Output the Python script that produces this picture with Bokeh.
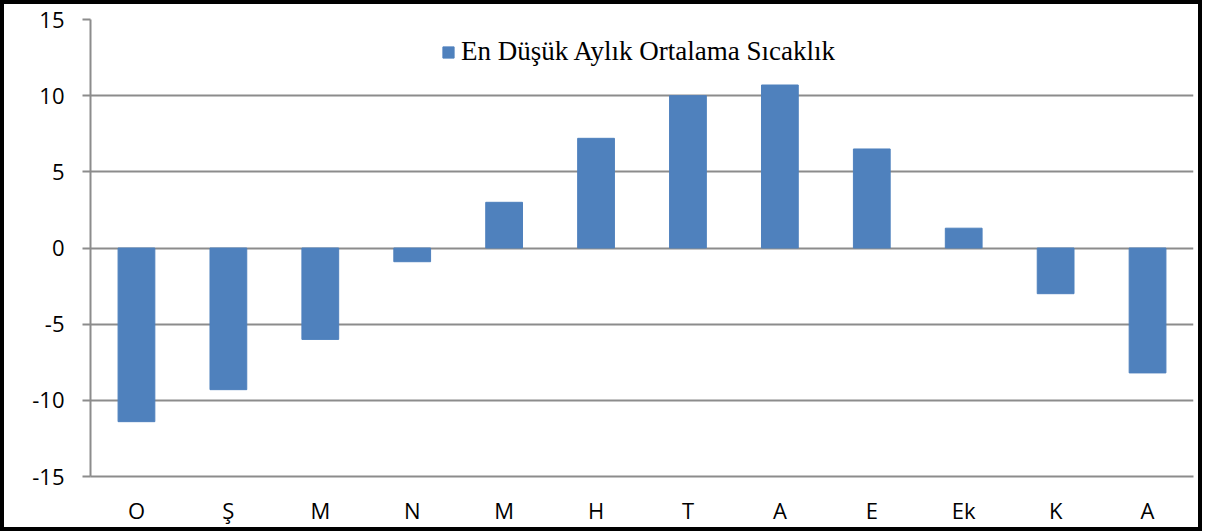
from bokeh.plotting import figure
from bokeh.layouts import column
from bokeh.embed import file_html
from bokeh.resources import INLINE
from bokeh.models import FixedTicker, ColumnDataSource, Legend, LegendItem

months = ["O", "Ş", "M", "N", "M", "H", "T", "A", "E", "Ek", "K", "A"]
values = [-11.4, -9.3, -6.0, -0.9, 3.0, 7.2, 10.0, 10.7, 6.5, 1.3, -3.0, -8.2]
series_name = "En Düşük Aylık Ortalama Sıcaklık"
y_ticks = [-15, -10, -5, 0, 5, 10, 15]

W, H = 1194, 523
xs = [i + 0.5 for i in range(len(months))]
src = ColumnDataSource(dict(x=xs, top=values))

p = figure(width=W, height=H, output_backend="svg", toolbar_location=None,
           x_range=(0, 12), y_range=(-15, 15),
           min_border_left=86, min_border_right=5, min_border_top=15, min_border_bottom=45)
p.outline_line_color = None

r = p.vbar(x="x", top="top", bottom=0, width=0.40, source=src,
           fill_color="#4F81BD", line_color="#4F81BD")

# axes
p.xaxis.ticker = FixedTicker(ticks=xs)
p.xaxis.major_label_overrides = {x: m for x, m in zip(xs, months)}
p.xaxis.major_tick_line_color = None
p.xaxis.minor_tick_line_color = None
p.xaxis.axis_line_color = "#8c8c8c"
p.xaxis.axis_line_width = 2
p.xaxis.major_label_standoff = 12
p.xaxis.major_label_text_font = "Open Sans"
p.xaxis.major_label_text_font_size = "22px"
p.xaxis.major_label_text_color = "black"

p.yaxis.ticker = FixedTicker(ticks=y_ticks)
p.yaxis.major_label_overrides = {t: str(t) for t in y_ticks}
p.yaxis.axis_line_color = "#8c8c8c"
p.yaxis.axis_line_width = 2
p.yaxis.major_tick_line_color = "#8c8c8c"
p.yaxis.major_tick_line_width = 2
p.yaxis.major_tick_out = 8
p.yaxis.major_tick_in = 0
p.yaxis.minor_tick_line_color = None
p.yaxis.major_label_standoff = 18
p.yaxis.major_label_text_font = "Open Sans"
p.yaxis.major_label_text_font_size = "22px"
p.yaxis.major_label_text_color = "black"

p.xgrid.grid_line_color = None
p.ygrid.ticker = FixedTicker(ticks=y_ticks)
p.ygrid.grid_line_color = "#8c8c8c"
p.ygrid.grid_line_width = 2

legend = Legend(items=[LegendItem(label=series_name, renderers=[r])],
                location=(351, 409))
legend.border_line_color = None
legend.background_fill_alpha = 0
legend.padding = 0
legend.margin = 0
legend.glyph_width = 14
legend.glyph_height = 14
legend.label_standoff = 6
legend.label_text_font = "Liberation Serif"
legend.label_text_font_size = "27px"
legend.label_text_color = "black"
p.add_layout(legend)

layout = column(p, styles={"border": "4px solid black"})

open("out.html", "w").write(file_html(layout, INLINE))
